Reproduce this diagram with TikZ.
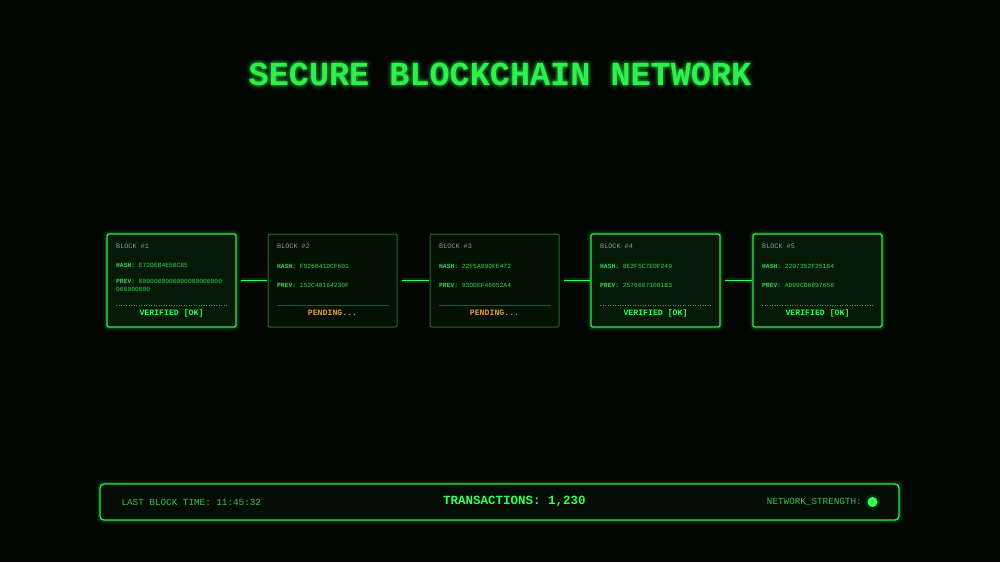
\documentclass[tikz,border=0pt]{standalone}
\usepackage{fontspec}
\setmainfont{Liberation Mono}
\setmonofont{Liberation Mono}
\definecolor{bg}{HTML}{030503}
\definecolor{gbright}{HTML}{33FF55}
\definecolor{gtitle}{HTML}{30EE4E}
\definecolor{gborder}{HTML}{30E84C}
\definecolor{gdim}{HTML}{236B2A}
\definecolor{gfill}{HTML}{041906}
\definecolor{gfilldim}{HTML}{031103}
\definecolor{gtext}{HTML}{3FD455}
\definecolor{glabel}{HTML}{8A9A8C}
\definecolor{pendor}{HTML}{E09A35}
\definecolor{barfill}{HTML}{030D03}
\definecolor{bartext}{HTML}{3CC050}
\begin{document}
\begin{tikzpicture}[x=1pt,y=-1pt,
  blk/.style={rectangle, rounded corners=2pt, anchor=north west, minimum width=129pt, minimum height=93pt, inner sep=0pt, outer sep=0pt},
  okblk/.style={blk, draw=gborder, line width=1.3pt, fill=gfill,
     preaction={draw=gbright, line width=8pt, opacity=0.06},
     preaction={draw=gbright, line width=4.5pt, opacity=0.14}},
  pendblk/.style={blk, draw=gdim, line width=1pt, fill=gfilldim},
  lbl/.style={anchor=west, inner sep=0pt, font=\fontsize{6.8}{7}\selectfont, text=glabel},
  hsh/.style={anchor=west, inner sep=0pt, font=\fontsize{6.3}{7}\selectfont, text=gtext},
  okst/.style={anchor=center, inner sep=0pt, font=\bfseries\fontsize{8.2}{9}\selectfont, text=gbright},
  pdst/.style={anchor=center, inner sep=0pt, font=\bfseries\fontsize{8.2}{9}\selectfont, text=pendor},
  sepok/.style={draw=gtext, line width=0.5pt, dotted, opacity=0.8},
  sepdim/.style={draw=gdim, line width=0.5pt, opacity=0.8},
  link/.style={draw=gbright, line width=1.6pt, shorten <=5pt, shorten >=1pt,
     preaction={draw=gbright, line width=5pt, opacity=0.15, shorten <=5pt, shorten >=1pt}},
  titlef/.style={inner sep=0pt, font=\bfseries\fontsize{33.5}{34}\selectfont, text=gtitle},
  bar/.style={rectangle, rounded corners=4pt, minimum width=799pt, minimum height=36pt, inner sep=0pt,
     draw=gborder, line width=1.3pt, fill=barfill,
     preaction={draw=gbright, line width=8pt, opacity=0.06},
     preaction={draw=gbright, line width=4.5pt, opacity=0.14}},
  barl/.style={inner sep=0pt, font=\fontsize{9.3}{10}\selectfont, text=bartext},
  bart/.style={inner sep=0pt, font=\bfseries\fontsize{12.5}{13}\selectfont, text=gbright},
  sigdot/.style={circle, minimum size=10pt, inner sep=0pt, fill=gbright,
     preaction={fill=gbright, opacity=0.2, draw=gbright, line width=5pt, draw opacity=0.12}}
]
\useasboundingbox[fill=bg] (0,0) rectangle (1000,562);

% title with soft glow
\foreach \a [count=\i] in {0,45,...,315} {
  \path (500,74.5) ++(\a:4.5) node[titlef, opacity=0.05] (tglowb\i) {SECURE BLOCKCHAIN NETWORK};
  \path (500,74.5) ++(\a+22.5:2) node[titlef, opacity=0.10] (tglowa\i) {SECURE BLOCKCHAIN NETWORK};
}
\node[titlef] (title) at (500,74.5) {SECURE BLOCKCHAIN NETWORK};

% blocks
\node[okblk]   (b1) at (107,234) {};
\node[pendblk] (b2) at (268,234) {};
\node[pendblk] (b3) at (430,234) {};
\node[okblk]   (b4) at (591,234) {};
\node[okblk]   (b5) at (753,234) {};

% connectors
\draw[link] (b1.east) -- (b2.west);
\draw[link] (b2.east) -- (b3.west);
\draw[link] (b3.east) -- (b4.west);
\draw[link] (b4.east) -- (b5.west);

% block 1
\node[lbl] (l1) at ([xshift=9pt,yshift=-12pt]b1.north west) {BLOCK \#1};
\node[hsh] (h1) at ([xshift=9pt,yshift=-31pt]b1.north west) {\textbf{HASH:} E72DEB4E50C85};
\node[hsh] (p1) at ([xshift=9pt,yshift=-47pt]b1.north west) {\textbf{PREV:} 0000000000000000000000};
\node[hsh] (q1) at ([xshift=9pt,yshift=-55pt]b1.north west) {000000000};
\draw[sepok] ([xshift=9pt,yshift=-71pt]b1.north west) coordinate (s1a) -- ([xshift=-8pt,yshift=-71pt]b1.north east) coordinate (s1b);
\node[okst] (v1) at ([yshift=-79pt]b1.north) {VERIFIED [OK]};

% block 2
\node[lbl] (l2) at ([xshift=9pt,yshift=-12pt]b2.north west) {BLOCK \#2};
\node[hsh] (h2) at ([xshift=9pt,yshift=-32pt]b2.north west) {\textbf{HASH:} F926B41DCF601};
\node[hsh] (p2) at ([xshift=9pt,yshift=-51pt]b2.north west) {\textbf{PREV:} 152C48164230F};
\draw[sepdim] ([xshift=9pt,yshift=-71pt]b2.north west) coordinate (s2a) -- ([xshift=-8pt,yshift=-71pt]b2.north east) coordinate (s2b);
\node[pdst] (v2) at ([yshift=-79pt]b2.north) {PENDING...};

% block 3
\node[lbl] (l3) at ([xshift=9pt,yshift=-12pt]b3.north west) {BLOCK \#3};
\node[hsh] (h3) at ([xshift=9pt,yshift=-32pt]b3.north west) {\textbf{HASH:} 22F5A99DFE472};
\node[hsh] (p3) at ([xshift=9pt,yshift=-51pt]b3.north west) {\textbf{PREV:} 93DDEF46052A4};
\draw[sepdim] ([xshift=9pt,yshift=-71pt]b3.north west) coordinate (s3a) -- ([xshift=-8pt,yshift=-71pt]b3.north east) coordinate (s3b);
\node[pdst] (v3) at ([yshift=-79pt]b3.north) {PENDING...};

% block 4
\node[lbl] (l4) at ([xshift=9pt,yshift=-12pt]b4.north west) {BLOCK \#4};
\node[hsh] (h4) at ([xshift=9pt,yshift=-32pt]b4.north west) {\textbf{HASH:} 8E2F5C7E0F249};
\node[hsh] (p4) at ([xshift=9pt,yshift=-51pt]b4.north west) {\textbf{PREV:} 25766071081B3};
\draw[sepok] ([xshift=9pt,yshift=-71pt]b4.north west) coordinate (s4a) -- ([xshift=-8pt,yshift=-71pt]b4.north east) coordinate (s4b);
\node[okst] (v4) at ([yshift=-79pt]b4.north) {VERIFIED [OK]};

% block 5
\node[lbl] (l5) at ([xshift=9pt,yshift=-12pt]b5.north west) {BLOCK \#5};
\node[hsh] (h5) at ([xshift=9pt,yshift=-32pt]b5.north west) {\textbf{HASH:} 2207352F25184};
\node[hsh] (p5) at ([xshift=9pt,yshift=-51pt]b5.north west) {\textbf{PREV:} AD09CB6897658};
\draw[sepok] ([xshift=9pt,yshift=-71pt]b5.north west) coordinate (s5a) -- ([xshift=-8pt,yshift=-71pt]b5.north east) coordinate (s5b);
\node[okst] (v5) at ([yshift=-79pt]b5.north) {VERIFIED [OK]};

% status bar
\node[bar] (bar) at (499.5,502) {};
\node[barl, anchor=west] (lbt) at ([xshift=22pt]bar.west) {LAST BLOCK TIME: 11:45:32};
\node[bart] (tx) at (514.5,501.5) {TRANSACTIONS: 1,230};
\node[barl, anchor=east] (ns) at (862,502) {NETWORK\_STRENGTH:};
\node[sigdot] (sig) at (872.5,502) {};
\end{tikzpicture}
\end{document}
